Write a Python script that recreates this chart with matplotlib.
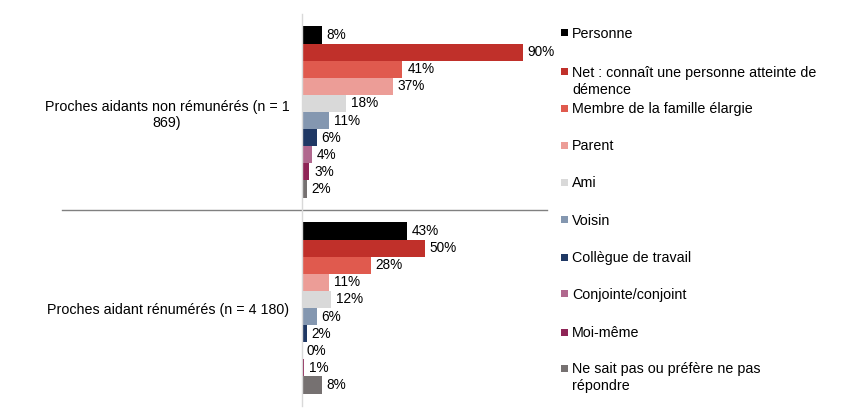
import matplotlib
matplotlib.use('Agg')
import numpy as np
import matplotlib.pyplot as plt
from matplotlib.patches import Rectangle

plt.rcParams['font.family'] = ['Liberation Sans', 'DejaVu Sans']

groups = ['Proches aidant rénumérés (n = 4 180)',
          'Proches aidants non rémunérés (n = 1\n869)']
series = ['Personne',
          'Net : connaît une personne atteinte de\ndémence',
          'Membre de la famille élargie',
          'Parent',
          'Ami',
          'Voisin',
          'Collègue de travail',
          'Conjointe/conjoint',
          'Moi-même',
          'Ne sait pas ou préfère ne pas\nrépondre']
# values per series: [rénumérés, non rémunérés]
paid = [43, 50, 28, 11, 12, 6, 2, 0, 1, 8]
unpaid = [8, 90, 41, 37, 18, 11, 6, 4, 3, 2]
colors = ['#000000', '#C0302A', '#E05A4E', '#EC9D97', '#D9D9D9',
          '#8497B0', '#1F3864', '#B0688E', '#8E2456', '#767171']

fig = plt.figure(figsize=(8.64, 4.11), dpi=100)
W, H = 864, 411
ax = fig.add_axes([302 / W, 5 / H, 245 / W, 392 / H])

n = len(series)
h = 0.873 / n
y = np.arange(len(groups))
fs = 10.3
fs_val = 9.8
for i in range(n):
    vals = [paid[i], unpaid[i]]
    pos = y + (n / 2 - 0.5 - i) * h
    ax.barh(pos, vals, height=h, color=colors[i], linewidth=0)
    for p, v in zip(pos, vals):
        ax.annotate('%d%%' % v, (v, p), xytext=(3.5, 0), textcoords='offset points',
                    va='center', ha='left', fontsize=fs_val, color='#000000')

ax.set_xlim(0, 100)
ax.set_ylim(-0.5, 1.5)
ax.set_yticks(y)
ax.set_yticklabels(groups, fontsize=fs, multialignment='center')
ax.tick_params(axis='y', length=0, pad=9)
ax.set_xticks([])
for s in ['top', 'right', 'bottom']:
    ax.spines[s].set_visible(False)
ax.spines['left'].set_color('#D9D9D9')
ax.spines['left'].set_linewidth(1)

# separator between categories
ax.plot([-240 / 245 * 100, 100], [0.5, 0.5], color='#808080', lw=1, clip_on=False)

# legend drawn manually
leg_y = [33, 72, 108, 145, 182, 220, 257, 294, 332, 368]
for lab, c, yy in zip(series, colors, leg_y):
    fig.patches.append(Rectangle((561 / W, 1 - (yy + 3.5) / H), 7 / W, 7 / H,
                                 transform=fig.transFigure, color=c, lw=0))
    for k, line in enumerate(lab.split('\n')):
        fig.text(572 / W, 1 - (yy + 5 + 17 * k) / H, line, fontsize=fs,
                 va='baseline', ha='left')

fig.savefig('out.png', dpi=100)
